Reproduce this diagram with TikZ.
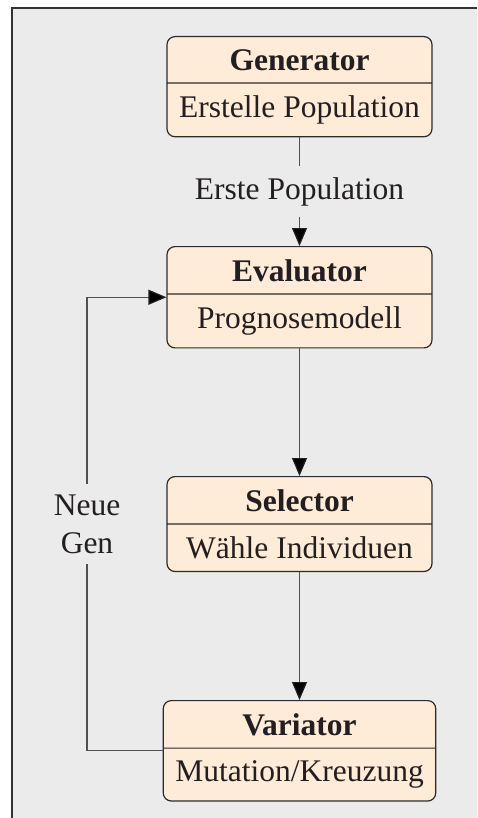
\documentclass[tikz,border=0pt]{standalone}
\usepackage{fontspec}
\setmainfont{Liberation Serif}
\usetikzlibrary{shapes.multipart,arrows.meta}
\definecolor{panelbg}{HTML}{EBEBEB}
\definecolor{panelrule}{HTML}{333333}
\definecolor{boxfill}{HTML}{FEEBD8}
\definecolor{boxrule}{HTML}{2B2B2B}
\definecolor{wire}{HTML}{505050}
\definecolor{ink}{HTML}{231F20}
\tikzset{
  stage/.style={rectangle split, rectangle split parts=2, draw=boxrule,
    line width=0.6pt, fill=boxfill, rounded corners=4pt, text=ink,
    minimum width=132.5pt, inner xsep=6pt, inner ysep=6pt,
    font=\fontsize{15.75pt}{19pt}\selectfont, align=center},
  flow/.style={draw=wire, line width=0.6pt,
    -{Triangle[length=9pt,width=7.5pt,color=ink]}},
  tag/.style={fill=panelbg, text=ink, inner sep=5.5pt, align=center,
    font=\fontsize{15.75pt}{19pt}\selectfont}
}
\begin{document}
\begin{tikzpicture}[x=0.5pt,y=-0.5pt]
  \useasboundingbox (0,0) rectangle (477,818);
  % panel
  \fill[panelbg] (12,8) rectangle (477,818);
  \draw[panelrule, line width=0.6pt] (12,818) -- (12,8) -- (477,8);
  % stages
  \node[stage, anchor=north] (gen) at (299.5,36)
    {\textbf{Generator}\nodepart{two}Erstelle Population};
  \node[stage, anchor=north] (eval) at (299.5,246)
    {\textbf{Evaluator}\nodepart{two}Prognosemodell};
  \node[stage, anchor=north] (sel) at (299.5,476)
    {\textbf{Selector}\nodepart{two}Wähle Individuen};
  \node[stage, anchor=north] (var) at (299.5,700)
    {\textbf{Variator}\nodepart{two}Mutation/Kreuzung};
  % connectors
  \draw[flow] (gen.south) -- node[tag] (first) {Erste Population} (eval.north);
  \draw[flow] (eval.south) -- (sel.north);
  \draw[flow] (sel.south) -- (var.north);
  \coordinate (lb) at (87,747.5);
  \coordinate (lt) at (87,294);
  \draw[flow] (var.west) -- (var.west -| lb) -- node[tag] (newgen) {Neue\\Gen} (eval.west -| lt) -- (eval.west);
\end{tikzpicture}
\end{document}
